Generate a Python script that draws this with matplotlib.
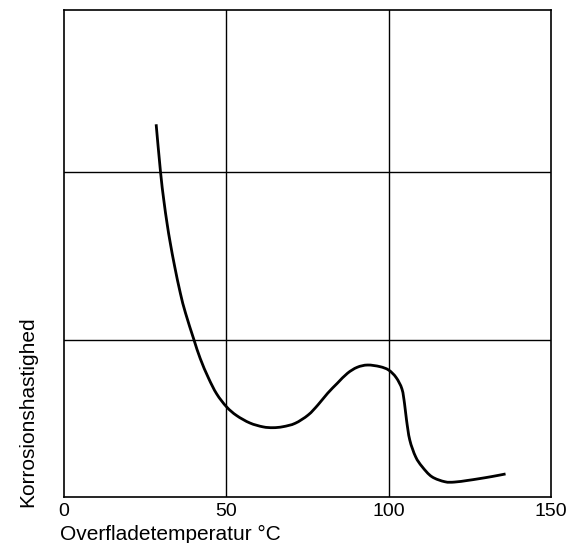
import matplotlib
matplotlib.use("Agg")
import numpy as np
import matplotlib.pyplot as plt
from matplotlib.path import Path
from matplotlib.patches import PathPatch

plt.rcParams['font.family'] = ['Liberation Sans', 'DejaVu Sans']

# Curve (x in °C, y in relative units)
temp = [28.38, 29.72, 30.73, 31.77, 32.75, 34.10, 35.84, 37.43, 39.97, 41.96,
        44.50, 47.03, 50.09, 53.15, 57.25, 61.31, 64.37, 67.43, 71.2, 75.2,
        78.2, 81.2, 84.2, 87.3, 90.3, 93.5, 97.3, 100.0, 102.3, 104.1, 104.9,
        105.5, 106.5, 108.3, 110.3, 113.3, 117.3, 120.3, 124.3, 127.6, 131.8,
        136.0]
rate = [2.296, 2.004, 1.830, 1.682, 1.563, 1.419, 1.255, 1.133, 0.972, 0.853,
        0.733, 0.635, 0.555, 0.502, 0.456, 0.432, 0.427, 0.433, 0.454, 0.505,
        0.567, 0.639, 0.701, 0.762, 0.799, 0.813, 0.803, 0.782, 0.736, 0.665,
        0.573, 0.474, 0.351, 0.248, 0.187, 0.125, 0.094, 0.092, 0.102, 0.112,
        0.126, 0.142]

xticks = [0, 50, 100, 150]
xgrid = [50, 100]
ygrid = [0.97, 2.0]

fig = plt.figure(figsize=(5.69, 5.43), dpi=100)
ax = fig.add_axes([64 / 569, 46 / 543, 487 / 569, 487 / 543])

# smooth line through the read points (Catmull-Rom drawn as Bezier path)
pts = np.column_stack([temp, rate])
n = len(pts)
verts = [pts[0]]
codes = [Path.MOVETO]
for i in range(n - 1):
    p0 = pts[max(i - 1, 0)]
    p1 = pts[i]
    p2 = pts[i + 1]
    p3 = pts[min(i + 2, n - 1)]
    verts += [p1 + (p2 - p0) / 6.0, p2 - (p3 - p1) / 6.0, p2]
    codes += [Path.CURVE4] * 3
ax.add_patch(PathPatch(Path(verts, codes), fill=False, edgecolor='black',
                       lw=2.0, capstyle='butt', joinstyle='round', zorder=3))

for g in xgrid:
    ax.axvline(g, color='black', lw=1.0)
for g in ygrid:
    ax.axhline(g, color='black', lw=1.0)

ax.set_xlim(0, 150)
ax.set_ylim(0, 3)
ax.set_xticks(xticks)
ax.set_xticklabels([str(t) for t in xticks], fontsize=14)
ax.set_yticks([])
ax.tick_params(axis='x', length=0, pad=4)
for s in ax.spines.values():
    s.set_color('black')
    s.set_linewidth(1.2)

fig.text(60 / 569, 1 - 540.5 / 543, 'Overfladetemperatur °C', fontsize=15,
         ha='left', va='baseline')
fig.text(28 / 569, 1 - 412 / 543, 'Korrosionshastighed', fontsize=15,
         rotation=90, ha='center', va='center')

fig.savefig('out.png', dpi=100)
